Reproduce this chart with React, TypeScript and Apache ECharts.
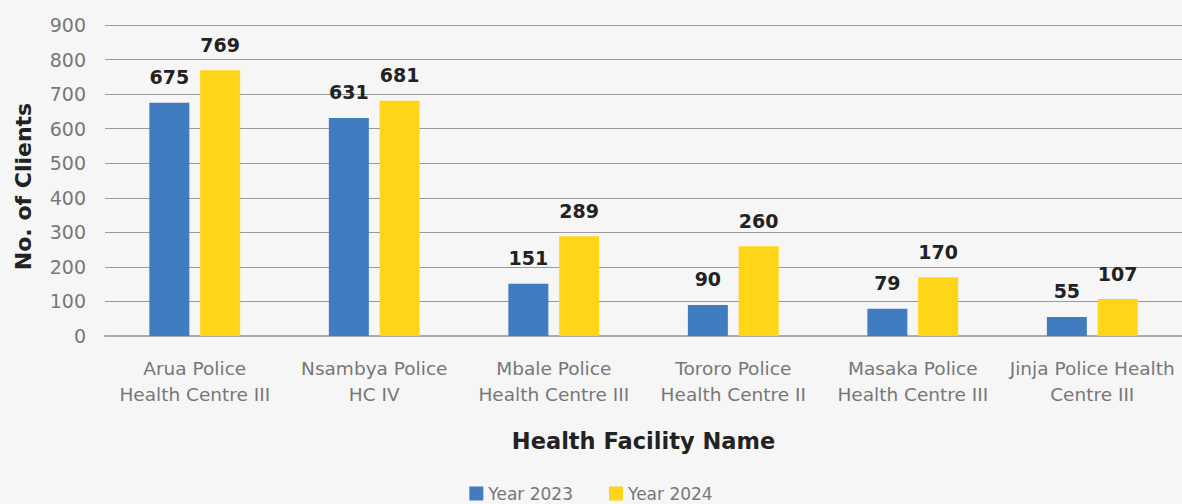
import React, { useEffect, useRef } from "react";
import * as echarts from "echarts";

const categories = [
  "Arua Police\nHealth Centre III",
  "Nsambya Police\nHC IV",
  "Mbale Police\nHealth Centre III",
  "Tororo Police\nHealth Centre II",
  "Masaka Police\nHealth Centre III",
  "Jinja Police Health\nCentre III",
];
const year2023 = [675, 631, 151, 90, 79, 55];
const year2024 = [769, 681, 289, 260, 170, 107];
const seriesNames = ["Year 2023", "Year 2024"];

const FONT = "'DejaVu Sans', sans-serif";

export default function App() {
  const ref = useRef<HTMLDivElement>(null);
  useEffect(() => {
    document.body.style.margin = "0";
    const chart = echarts.init(ref.current!, null, { renderer: "svg" });
    const labelStyle = {
      show: true,
      position: "top" as const,
      distance: 16,
      fontFamily: FONT,
      fontWeight: "bold" as const,
      fontSize: 19,
      color: "#222",
    };
    chart.setOption({
      animation: false,
      backgroundColor: "#f6f6f6",
      textStyle: { fontFamily: FONT },
      grid: { left: 105, right: 0, top: 25, bottom: 168, outerBoundsMode: "none", containLabel: false },
      legend: {
        bottom: -3,
        left: "center",
        itemWidth: 14,
        itemHeight: 14,
        itemGap: 36,
        icon: "rect",
        textStyle: { color: "#777", fontSize: 17, fontFamily: FONT },
        data: seriesNames,
      },
      xAxis: {
        type: "category",
        data: categories,
        name: "Health Facility Name",
        nameLocation: "middle",
        nameGap: 93,
        nameTextStyle: { color: "#222", fontSize: 22.5, fontWeight: "bold", fontFamily: FONT },
        axisLine: { lineStyle: { color: "#aaa", width: 2 } },
        axisTick: { show: false },
        axisLabel: { color: "#777", fontSize: 18.5, lineHeight: 26, margin: 19, interval: 0, fontFamily: FONT },
      },
      yAxis: {
        type: "value",
        min: 0,
        max: 900,
        interval: 100,
        name: "No. of Clients",
        nameLocation: "middle",
        nameGap: 71,
        nameTextStyle: { color: "#222", fontSize: 22, fontWeight: "bold", fontFamily: FONT, padding: [0, 12, 0, 0] },
        axisLabel: { color: "#777", fontSize: 19, margin: 19, fontFamily: FONT },
        splitLine: { lineStyle: { color: "#999", width: 1 } },
        axisLine: { show: false },
        axisTick: { show: false },
      },
      series: [
        {
          name: seriesNames[0],
          type: "bar",
          data: year2023,
          barWidth: 40,
          barGap: "27%",
          itemStyle: { color: "#427CC0" },
          label: labelStyle,
        },
        {
          name: seriesNames[1],
          type: "bar",
          data: year2024,
          barWidth: 40,
          itemStyle: { color: "#FFD617" },
          label: labelStyle,
        },
      ],
    });
    return () => chart.dispose();
  }, []);
  return <div ref={ref} style={{ width: 1182, height: 504 }} />;
}
